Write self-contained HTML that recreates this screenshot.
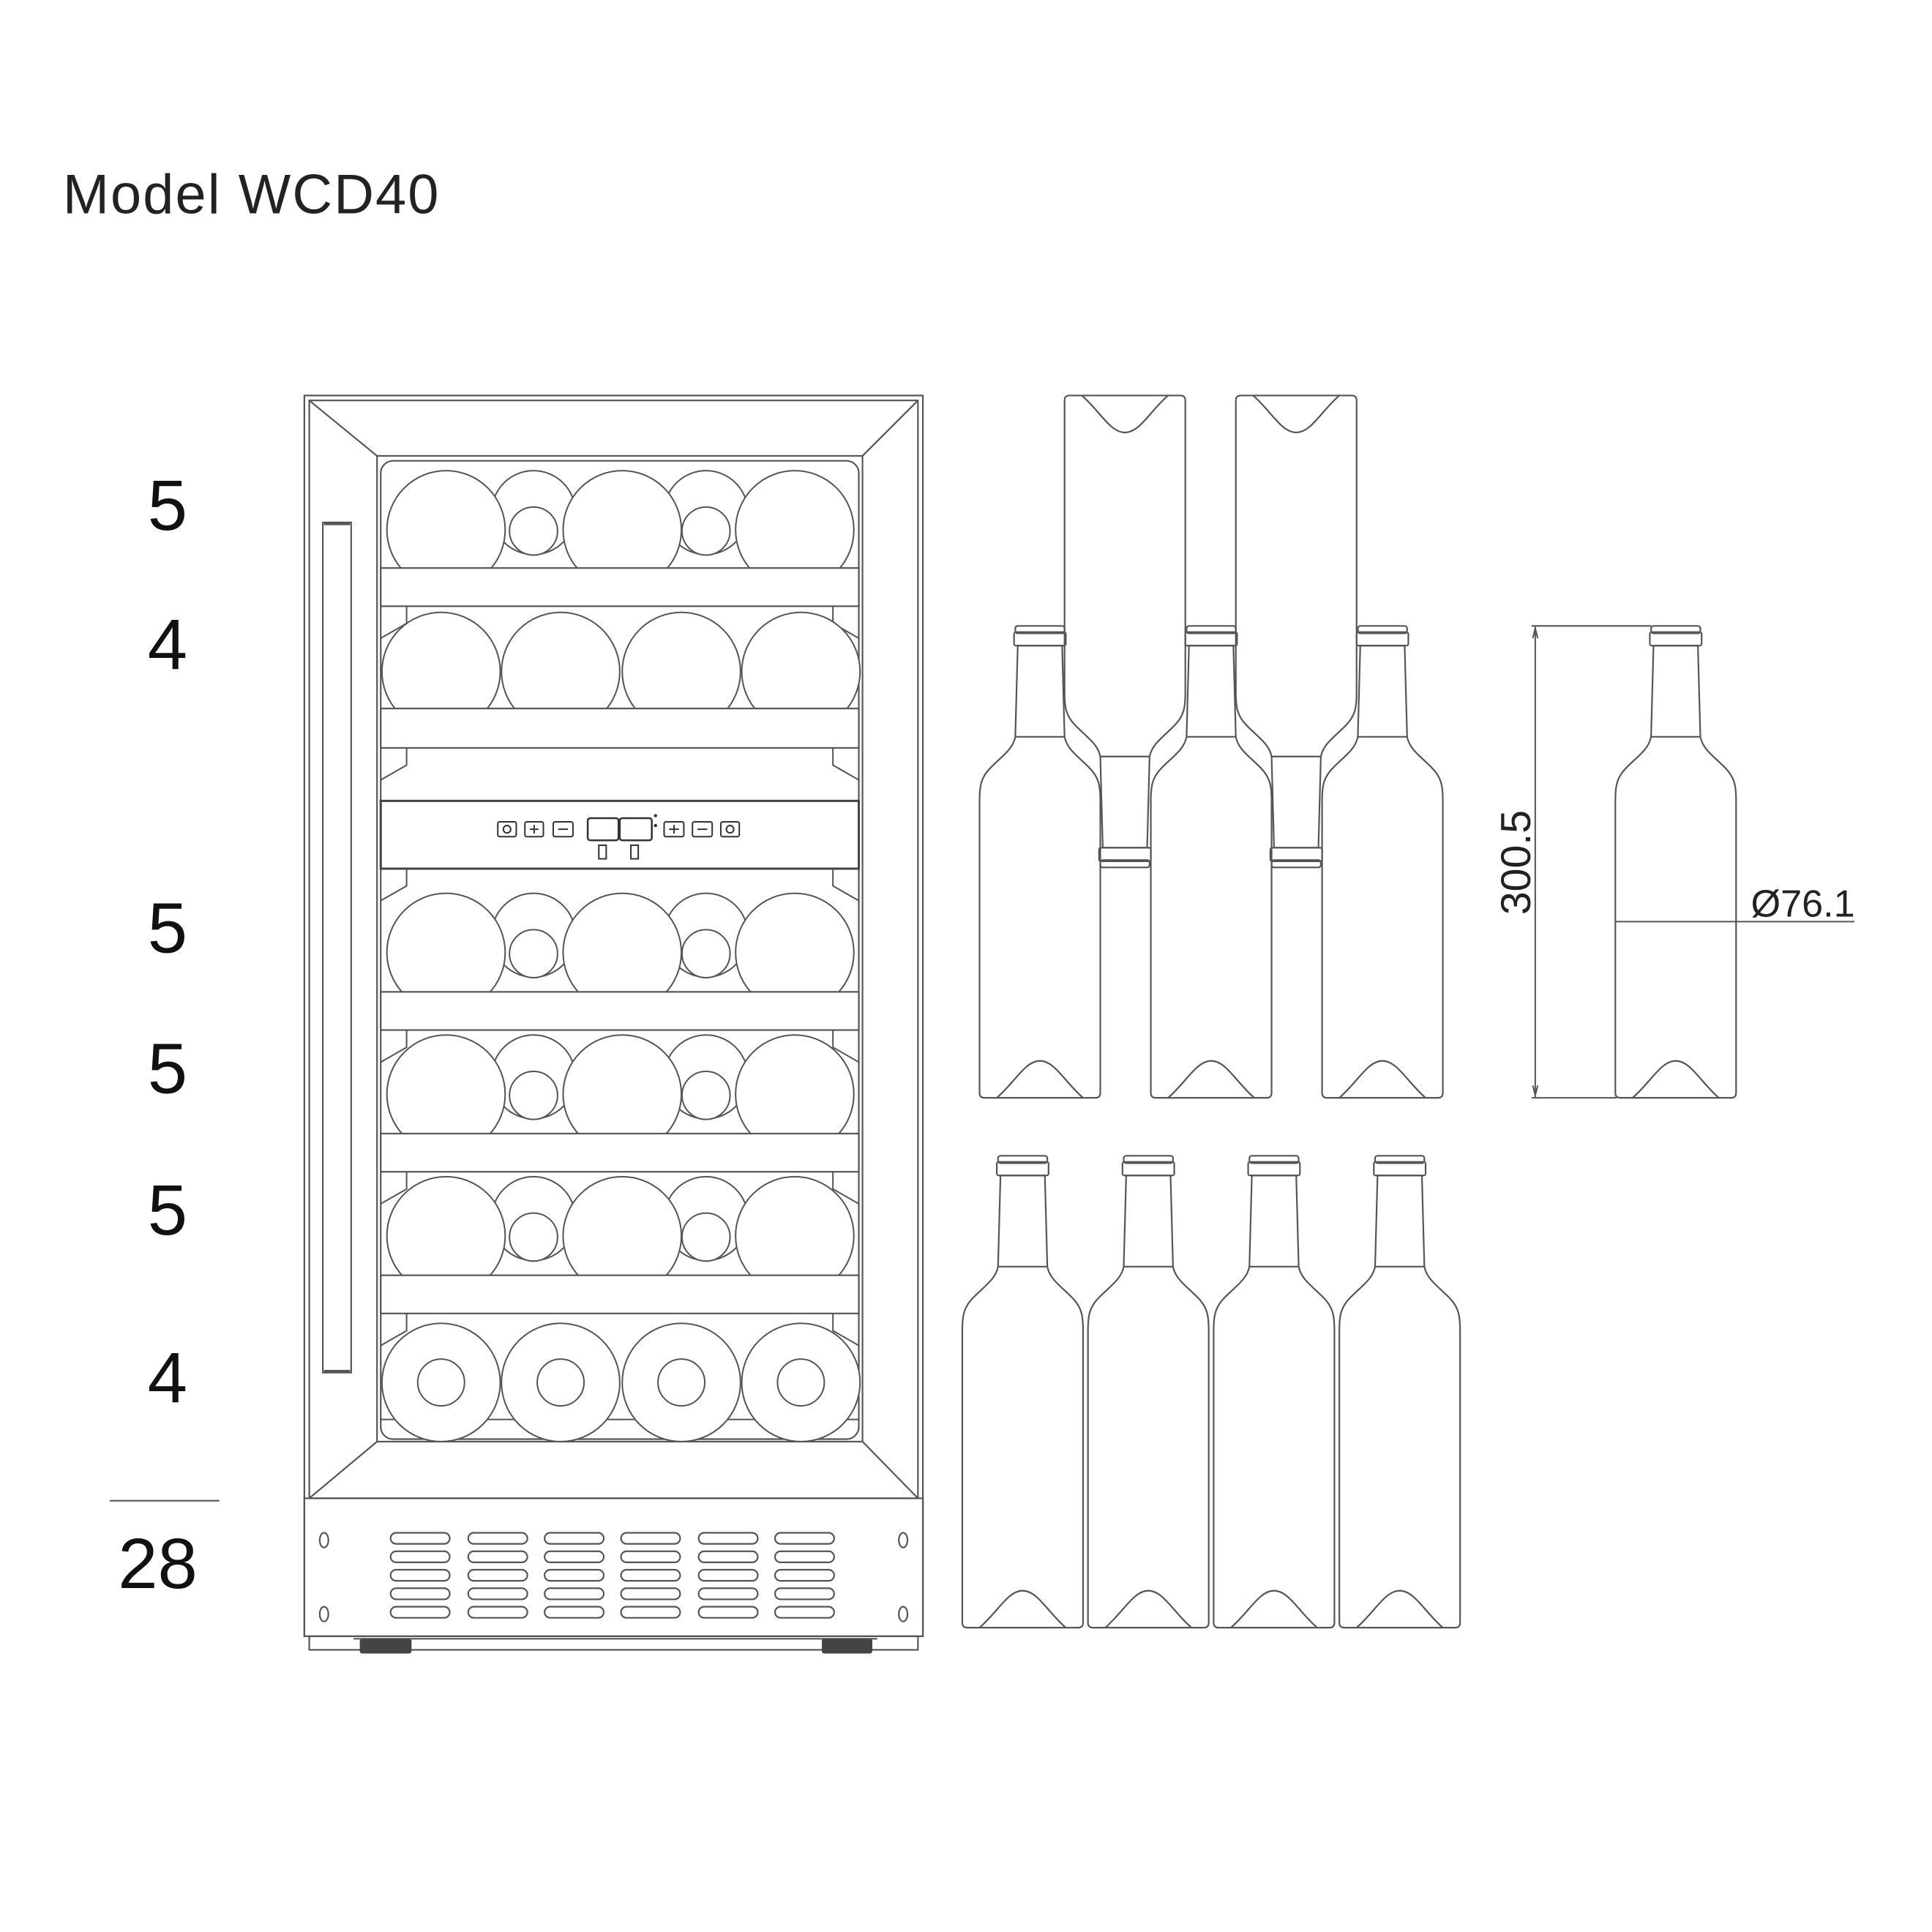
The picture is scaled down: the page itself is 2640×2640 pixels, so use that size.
<!DOCTYPE html>
<html><head><meta charset="utf-8"><style>html,body{margin:0;padding:0;background:#fff}svg{display:block}</style></head>
<body>
<svg width="2640" height="2640" viewBox="0 0 1568 1568" xmlns="http://www.w3.org/2000/svg" font-family="Liberation Sans, sans-serif">
<defs>
<g id="b" fill="#fff" stroke="#555" stroke-width="1.3">
<path d="M-18 16 L-20 90 C-22 100 -30 105 -40 115 C-48 123 -49 130 -49 142 L-49 379 Q-49 383 -45 383 L45 383 Q49 383 49 379 L49 142 C49 130 48 123 40 115 C30 105 22 100 20 90 L18 16 Z"/>
<rect x="-20" y="0" width="40" height="6" rx="2"/>
<rect x="-21" y="5" width="42" height="11" rx="1.5"/>
<path d="M-20 90 L20 90" fill="none"/>
<path d="M-35 383 C-20 370 -12 353 0 353 C12 353 20 370 35 383" fill="none"/>
</g>
<g id="b2" fill="none" stroke="#555" stroke-width="1.3">
<path d="M-18 16 L-20 90 C-22 100 -30 105 -40 115 C-48 123 -49 130 -49 142 L-49 379 Q-49 383 -45 383 L45 383 Q49 383 49 379 L49 142 C49 130 48 123 40 115 C30 105 22 100 20 90 L18 16 Z"/>
<rect x="-20" y="0" width="40" height="6" rx="2"/>
<rect x="-21" y="5" width="42" height="11" rx="1.5"/>
<path d="M-20 90 L20 90"/>
<path d="M-35 383 C-20 370 -12 353 0 353 C12 353 20 370 35 383"/>
</g>
<g id="br" fill="none" stroke="#555" stroke-width="1.2">
<path d="M330 0 L330 14 L309 26"/><path d="M676 0 L676 14 L697 26"/>
</g>
<g id="row5" stroke="#555" stroke-width="1.2" fill="#fff">
<circle cx="433" cy="0" r="34"/><circle cx="573" cy="0" r="34"/>
<circle cx="433" cy="15" r="19.5"/><circle cx="573" cy="15" r="19.5"/>
<circle cx="362" cy="14" r="48"/><circle cx="505" cy="14" r="48"/><circle cx="645" cy="14" r="48"/>
</g>
</defs>

<text x="51" y="173" font-size="45" fill="#222" textLength="305">Model WCD40</text>

<g font-size="58" fill="#111" text-anchor="middle">
<text x="136" y="430">5</text>
<text x="136" y="543">4</text>
<text x="136" y="773">5</text>
<text x="136" y="887">5</text>
<text x="136" y="1002">5</text>
<text x="136" y="1138">4</text>
<text x="128" y="1289">28</text>
</g>
<line x1="89" y1="1218" x2="178" y2="1218" stroke="#555" stroke-width="1.3"/>

<!-- fridge -->
<g fill="none" stroke="#555" stroke-width="1.3">
<rect x="247" y="321" width="502" height="1007"/>
<rect x="251" y="325" width="494" height="891"/>
<rect x="306" y="370" width="394" height="800"/>
<path d="M251 325 L306 370 M745 325 L700 370 M306 1170 L251 1216 M700 1170 L745 1216"/>
<rect x="262" y="424" width="23" height="690"/>
<path d="M263 425 L284 425 M263 1113 L284 1113" stroke-width="2.5"/>
<rect x="309" y="374" width="388" height="794" rx="10"/>
</g>

<!-- row 1 -->
<use href="#row5" transform="translate(0,416)"/>
<rect x="309" y="461" width="388" height="31" fill="#fff" stroke="#555" stroke-width="1.3"/>
<use href="#br" transform="translate(0,492)"/>
<!-- row 2 -->
<g stroke="#555" stroke-width="1.2" fill="#fff">
<circle cx="358" cy="545" r="48"/><circle cx="455" cy="545" r="48"/><circle cx="553" cy="545" r="48"/><circle cx="650" cy="545" r="48"/>
</g>
<rect x="309" y="575" width="388" height="32" fill="#fff" stroke="#555" stroke-width="1.3"/>
<use href="#br" transform="translate(0,607)"/>
<!-- control panel -->
<rect x="309" y="650" width="388" height="55" fill="#fff" stroke="#444" stroke-width="1.8"/>
<g fill="none" stroke="#333" stroke-width="1.2">
<rect x="404" y="667" width="15" height="12" rx="1.5"/><circle cx="411.5" cy="673" r="3"/>
<rect x="426" y="667" width="15" height="12" rx="1.5"/><path d="M430 673 h7 M433.5 669.5 v7"/>
<rect x="449" y="667" width="16" height="12" rx="1.5"/><path d="M453 673 h8"/>
<rect x="477" y="664" width="25" height="18" rx="2" stroke-width="1.5"/>
<rect x="503" y="664" width="26" height="18" rx="2" stroke-width="1.5"/>
<rect x="539" y="667" width="16" height="12" rx="1.5"/><path d="M543 673 h8 M547 669.5 v7"/>
<rect x="562" y="667" width="16" height="12" rx="1.5"/><path d="M566 673 h8"/>
<rect x="585" y="667" width="15" height="12" rx="1.5"/><circle cx="592.5" cy="673" r="3"/>
<rect x="486" y="686" width="6" height="11"/><rect x="512" y="686" width="6" height="11"/>
</g>
<circle cx="532" cy="662" r="1.3" fill="#333"/><circle cx="532" cy="670" r="1.3" fill="#333"/>
<use href="#br" transform="translate(0,705)"/>
<!-- row 3 -->
<use href="#row5" transform="translate(0,759)"/>
<rect x="309" y="805" width="388" height="31" fill="#fff" stroke="#555" stroke-width="1.3"/>
<use href="#br" transform="translate(0,836)"/>
<!-- row 4 -->
<use href="#row5" transform="translate(0,874)"/>
<rect x="309" y="920" width="388" height="31" fill="#fff" stroke="#555" stroke-width="1.3"/>
<use href="#br" transform="translate(0,951)"/>
<!-- row 5 -->
<use href="#row5" transform="translate(0,989)"/>
<rect x="309" y="1035" width="388" height="31" fill="#fff" stroke="#555" stroke-width="1.3"/>
<use href="#br" transform="translate(0,1066)"/>
<!-- row 6 -->
<path d="M309 1152 L697 1152" stroke="#555" stroke-width="1.2"/>
<g stroke="#555" stroke-width="1.2" fill="#fff">
<ellipse cx="358" cy="1122" rx="48" ry="48"/><ellipse cx="455" cy="1122" rx="48" ry="48"/><ellipse cx="553" cy="1122" rx="48" ry="48"/><ellipse cx="650" cy="1122" rx="48" ry="48"/>
<circle cx="358" cy="1122" r="19"/><circle cx="455" cy="1122" r="19"/><circle cx="553" cy="1122" r="19"/><circle cx="650" cy="1122" r="19"/>
</g>

<!-- base -->
<g fill="none" stroke="#555" stroke-width="1.3">
<rect x="247" y="1216" width="502" height="112"/>
<rect x="251" y="1328" width="494" height="11"/>
<path d="M287 1330 L712 1330"/>
<ellipse cx="263" cy="1250" rx="3.5" ry="6"/><ellipse cx="263" cy="1310" rx="3.5" ry="6"/>
<ellipse cx="733" cy="1250" rx="3.5" ry="6"/><ellipse cx="733" cy="1310" rx="3.5" ry="6"/>
</g>
<g fill="none" stroke="#555" stroke-width="1.3">
<rect x="317" y="1244" width="48" height="9" rx="4.5"/><rect x="380" y="1244" width="48" height="9" rx="4.5"/><rect x="442" y="1244" width="48" height="9" rx="4.5"/><rect x="504" y="1244" width="48" height="9" rx="4.5"/><rect x="567" y="1244" width="48" height="9" rx="4.5"/><rect x="629" y="1244" width="48" height="9" rx="4.5"/>
<rect x="317" y="1259" width="48" height="9" rx="4.5"/><rect x="380" y="1259" width="48" height="9" rx="4.5"/><rect x="442" y="1259" width="48" height="9" rx="4.5"/><rect x="504" y="1259" width="48" height="9" rx="4.5"/><rect x="567" y="1259" width="48" height="9" rx="4.5"/><rect x="629" y="1259" width="48" height="9" rx="4.5"/>
<rect x="317" y="1274" width="48" height="9" rx="4.5"/><rect x="380" y="1274" width="48" height="9" rx="4.5"/><rect x="442" y="1274" width="48" height="9" rx="4.5"/><rect x="504" y="1274" width="48" height="9" rx="4.5"/><rect x="567" y="1274" width="48" height="9" rx="4.5"/><rect x="629" y="1274" width="48" height="9" rx="4.5"/>
<rect x="317" y="1289" width="48" height="9" rx="4.5"/><rect x="380" y="1289" width="48" height="9" rx="4.5"/><rect x="442" y="1289" width="48" height="9" rx="4.5"/><rect x="504" y="1289" width="48" height="9" rx="4.5"/><rect x="567" y="1289" width="48" height="9" rx="4.5"/><rect x="629" y="1289" width="48" height="9" rx="4.5"/>
<rect x="317" y="1304" width="48" height="9" rx="4.5"/><rect x="380" y="1304" width="48" height="9" rx="4.5"/><rect x="442" y="1304" width="48" height="9" rx="4.5"/><rect x="504" y="1304" width="48" height="9" rx="4.5"/><rect x="567" y="1304" width="48" height="9" rx="4.5"/><rect x="629" y="1304" width="48" height="9" rx="4.5"/>
</g>
<rect x="292" y="1330" width="42" height="12" rx="2" fill="#444"/>
<rect x="667" y="1330" width="41" height="12" rx="2" fill="#444"/>

<!-- bottles middle group -->
<use href="#b2" transform="translate(844,508)"/>
<use href="#b2" transform="translate(983,508)"/>
<use href="#b2" transform="translate(1122,508)"/>
<use href="#b2" transform="translate(913,704) scale(1,-1)"/>
<use href="#b2" transform="translate(1052,704) scale(1,-1)"/>

<!-- bottom row -->
<use href="#b2" transform="translate(830,938)"/>
<use href="#b2" transform="translate(932,938)"/>
<use href="#b2" transform="translate(1034,938)"/>
<use href="#b2" transform="translate(1136,938)"/>

<!-- dimensioned bottle -->
<use href="#b2" transform="translate(1360,508)"/>
<g stroke="#555" stroke-width="1.2" fill="none">
<path d="M1243 508 L1340 508 M1243 891 L1312 891 M1246 508 L1246 891"/>
<path d="M1311 748 L1505 748"/>
<path d="M1246 510 l-2 8 M1246 510 l2 8 M1246 889 l-2 -8 M1246 889 l2 -8"/>
</g>
<text x="0" y="0" font-size="34" fill="#222" text-anchor="middle" transform="translate(1242,700) rotate(-90)">300.5</text>
<text x="1421" y="744" font-size="31" fill="#222">Ø76.1</text>
</svg>
</body></html>
